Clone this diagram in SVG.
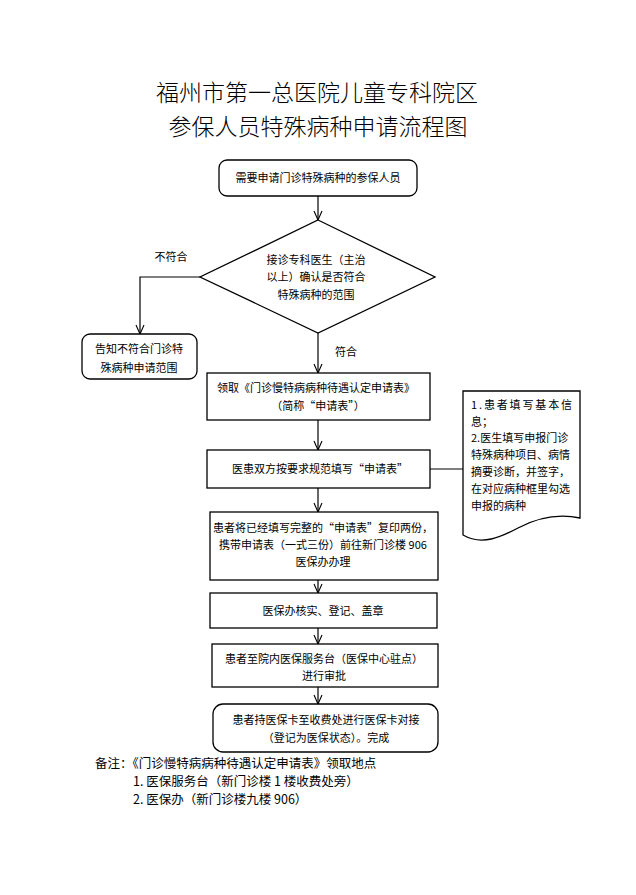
<svg xmlns="http://www.w3.org/2000/svg" width="636" height="895" viewBox="0 0 636 895">
<defs>
<style>
.bx{fill:#fff;stroke:#000;stroke-width:1.3}
.ln{fill:none;stroke:#000;stroke-width:1.2}
text{font-family:"Noto Sans CJK SC","Noto Sans",sans-serif;fill:#000}
.t{font-size:11px;text-anchor:middle}
.d{font-size:11px}
.ttl{font-size:23px;text-anchor:middle;font-weight:300}
.n{font-size:12.5px}
</style>
<marker id="ar" viewBox="0 0 10 10" refX="10" refY="5" markerWidth="10" markerHeight="10" markerUnits="userSpaceOnUse" orient="auto">
<polyline points="1,1 10,5 1,9" fill="none" stroke="#000" stroke-width="1.1"/>
</marker>
</defs>
<rect width="636" height="895" fill="#fff"/>
<g id="title">
<text class="ttl" x="317" y="101">福州市第一总医院儿童专科院区</text>
<text class="ttl" x="318" y="135">参保人员特殊病种申请流程图</text>
</g>
<g id="connectors">
<line class="ln" x1="318" y1="196" x2="318" y2="220" marker-end="url(#ar)"/>
<polyline class="ln" points="200,277 140,277 140,334" marker-end="url(#ar)"/>
<line class="ln" x1="318" y1="333" x2="318" y2="373" marker-end="url(#ar)"/>
<line class="ln" x1="318" y1="420" x2="318" y2="450" marker-end="url(#ar)"/>
<line class="ln" x1="430" y1="469" x2="463" y2="469"/>
<line class="ln" x1="318" y1="488" x2="318" y2="512" marker-end="url(#ar)"/>
<line class="ln" x1="318" y1="580" x2="318" y2="593" marker-end="url(#ar)"/>
<line class="ln" x1="318" y1="628" x2="318" y2="644" marker-end="url(#ar)"/>
<line class="ln" x1="318" y1="687" x2="318" y2="704" marker-end="url(#ar)"/>
<text class="t" x="171" y="261">不符合</text>
<text class="t" x="346" y="356">符合</text>
</g>
<g id="start">
<rect class="bx" x="219" y="160" width="198" height="36" rx="8"/>
<text class="t" x="318" y="182">需要申请门诊特殊病种的参保人员</text>
</g>
<g id="decision">
<polygon class="bx" points="318,220 435,277 318,333 200,277"/>
<text class="t" x="316" y="264">接诊专科医生（主治</text>
<text class="t" x="316" y="281">以上）确认是否符合</text>
<text class="t" x="316" y="299">特殊病种的范围</text>
</g>
<g id="reject">
<rect class="bx" x="82" y="334" width="115" height="45" rx="8"/>
<text class="t" x="139" y="353">告知不符合门诊特</text>
<text class="t" x="139" y="372">殊病种申请范围</text>
</g>
<g id="get-form">
<rect class="bx" x="207" y="373" width="223" height="47"/>
<text class="t" x="316" y="392">领取《门诊慢特病病种待遇认定申请表》</text>
<text class="t" x="318" y="410">（简称“申请表”）</text>
</g>
<g id="fill-form">
<rect class="bx" x="207" y="450" width="223" height="38"/>
<text class="t" x="320" y="473">医患双方按要求规范填写“申请表”</text>
</g>
<g id="note-doc">
<path class="bx" d="M463,391 L580,391 L580,518 C556,513 535,519 518,528 C501,537 482,546 463,535 Z"/>
<text class="d" x="471" y="409" textLength="101" lengthAdjust="spacing">1.患者填写基本信</text>
<text class="d" x="471" y="426">息；</text>
<text class="d" x="471" y="442">2.医生填写申报门诊</text>
<text class="d" x="471" y="459">特殊病种项目、病情</text>
<text class="d" x="471" y="476">摘要诊断，并签字，</text>
<text class="d" x="471" y="493">在对应病种框里勾选</text>
<text class="d" x="471" y="510">申报的病种</text>
</g>
<g id="copy-form">
<rect class="bx" x="210" y="512" width="228" height="68"/>
<text class="t" x="323" y="532">患者将已经填写完整的“申请表”复印两份，</text>
<text class="t" x="323" y="549">携带申请表（一式三份）前往新门诊楼 906</text>
<text class="t" x="323" y="566">医保办办理</text>
</g>
<g id="verify">
<rect class="bx" x="210" y="593" width="227" height="35"/>
<text class="t" x="323" y="615">医保办核实、登记、盖章</text>
</g>
<g id="approve">
<rect class="bx" x="212" y="644" width="226" height="43"/>
<text class="t" x="324" y="663">患者至院内医保服务台（医保中心驻点）</text>
<text class="t" x="324" y="680">进行审批</text>
</g>
<g id="finish">
<rect class="bx" x="213" y="704" width="225" height="48" rx="10"/>
<text class="t" x="326" y="724">患者持医保卡至收费处进行医保卡对接</text>
<text class="t" x="326" y="742">（登记为医保状态）。完成</text>
</g>
<g id="remark">
<text class="n" x="95" y="768">备注：《门诊慢特病病种待遇认定申请表》领取地点</text>
<text class="n" x="133" y="786">1. 医保服务台（新门诊楼 1 楼收费处旁）</text>
<text class="n" x="133" y="804">2. 医保办（新门诊楼九楼 906）</text>
</g>
</svg>
